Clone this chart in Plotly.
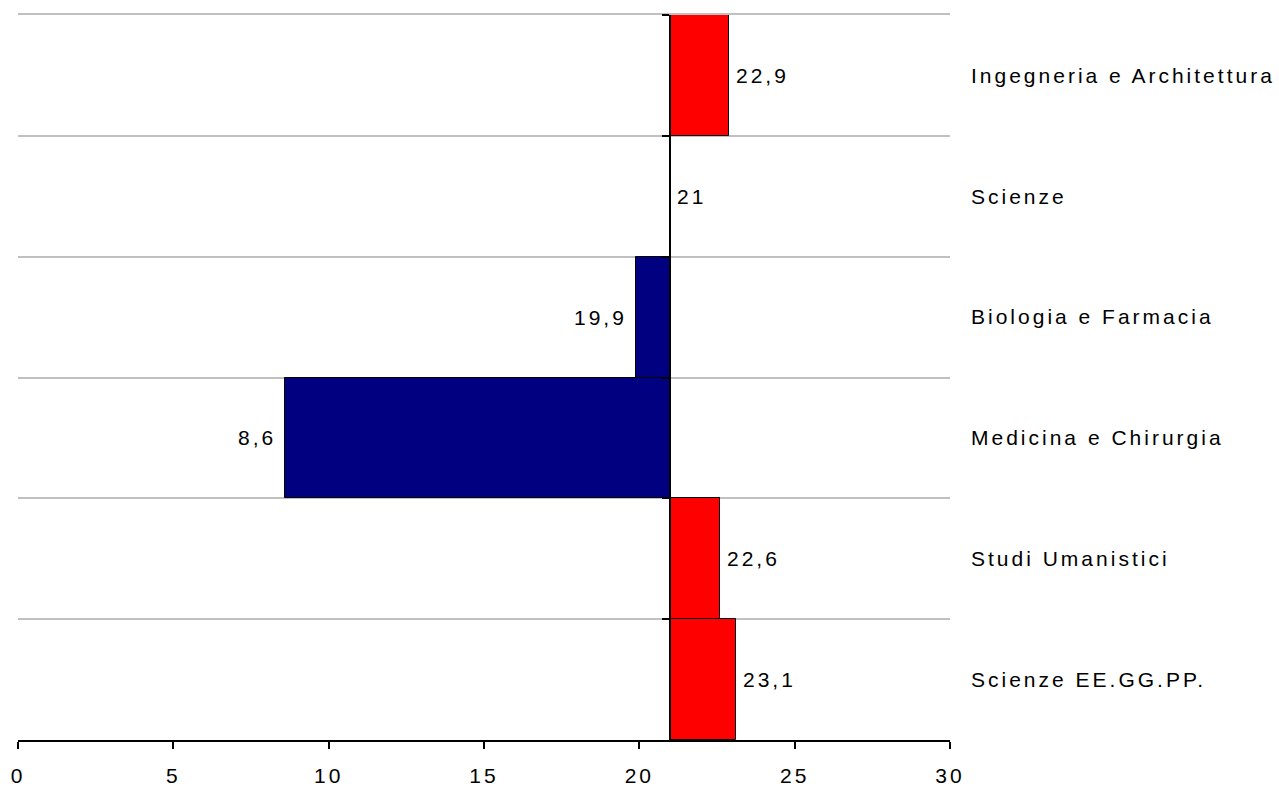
import plotly.graph_objects as go

# Faculty values, drawn as deviations from the reference value
categories = [
    "Ingegneria e Architettura",
    "Scienze",
    "Biologia e Farmacia",
    "Medicina e Chirurgia",
    "Studi Umanistici",
    "Scienze EE.GG.PP.",
]
values = [22.9, 21.0, 19.9, 8.6, 22.6, 23.1]
BASE = 21.0
x_ticks = [0, 5, 10, 15, 20, 25, 30]

ABOVE = "#FF0000"
BELOW = "#000080"
FONT = "Liberation Sans"
SIZE = 21
GRID = "#c0c0c0"


def spaced(s):
    return f'<span style="letter-spacing:3px">{s}</span>'


colors = [ABOVE if v >= BASE else BELOW for v in values]

fig = go.Figure()

fig.add_trace(go.Bar(
    y=categories,
    x=[v - BASE for v in values],
    base=BASE,
    orientation="h",
    marker=dict(color=colors, line=dict(color="black", width=1)),
    xaxis="x",
    yaxis="y",
    hoverinfo="skip",
    showlegend=False,
))

# invisible trace that carries the category labels on the right-hand axis
fig.add_trace(go.Scatter(
    y=categories,
    x=[BASE] * len(categories),
    mode="markers",
    marker=dict(opacity=0),
    xaxis="x2",
    yaxis="y2",
    hoverinfo="skip",
    showlegend=False,
))


def fmt(v):
    return f"{v:g}".replace(".", ",")


annotations = []
for c, v in zip(categories, values):
    right = v >= BASE
    annotations.append(dict(
        x=v, y=c, xref="x", yref="y",
        text=spaced(fmt(v)),
        showarrow=False,
        xanchor="left" if right else "right",
        xshift=5 if right else -7,
        font=dict(family=FONT, size=SIZE, color="black"),
    ))

cat_range = [len(categories) - 0.5, -0.5]

fig.update_layout(
    width=1279,
    height=787,
    margin=dict(l=18, r=329, t=15, b=47),
    paper_bgcolor="white",
    plot_bgcolor="white",
    bargap=0,
    annotations=annotations,
    xaxis=dict(
        range=[0, 30],
        tickvals=x_ticks,
        ticktext=[spaced(t) for t in x_ticks],
        showgrid=False,
        zeroline=False,
        showline=True,
        linecolor="black",
        linewidth=2,
        ticks="outside",
        ticklen=7,
        tickwidth=2,
        tickcolor="black",
        ticklabelstandoff=9,
        tickfont=dict(family=FONT, size=SIZE, color="black"),
        automargin=False,
        fixedrange=True,
    ),
    # top border drawn as a grey rule, like the category separators
    xaxis2=dict(
        range=[0, 30],
        overlaying="x",
        side="top",
        anchor="y2",
        showline=True,
        linecolor=GRID,
        linewidth=2,
        showgrid=False,
        zeroline=False,
        ticks="",
        showticklabels=False,
        automargin=False,
        fixedrange=True,
    ),
    yaxis=dict(
        type="category",
        categoryorder="array",
        categoryarray=categories,
        range=cat_range,
        anchor="free",
        position=BASE / 30,
        showline=True,
        linecolor="black",
        linewidth=2,
        ticks="outside",
        ticklen=7,
        tickwidth=2,
        tickcolor="black",
        tickson="boundaries",
        showgrid=True,
        gridcolor=GRID,
        gridwidth=2,
        showticklabels=False,
        zeroline=False,
        fixedrange=True,
    ),
    yaxis2=dict(
        type="category",
        categoryorder="array",
        categoryarray=categories,
        tickvals=categories,
        ticktext=[spaced(c) for c in categories],
        range=cat_range,
        overlaying="y",
        side="right",
        anchor="x2",
        showgrid=False,
        showline=False,
        ticks="",
        ticklabelstandoff=20,
        tickfont=dict(family=FONT, size=SIZE, color="black"),
        automargin=False,
        zeroline=False,
        fixedrange=True,
    ),
)

fig.write_html("out.html")
